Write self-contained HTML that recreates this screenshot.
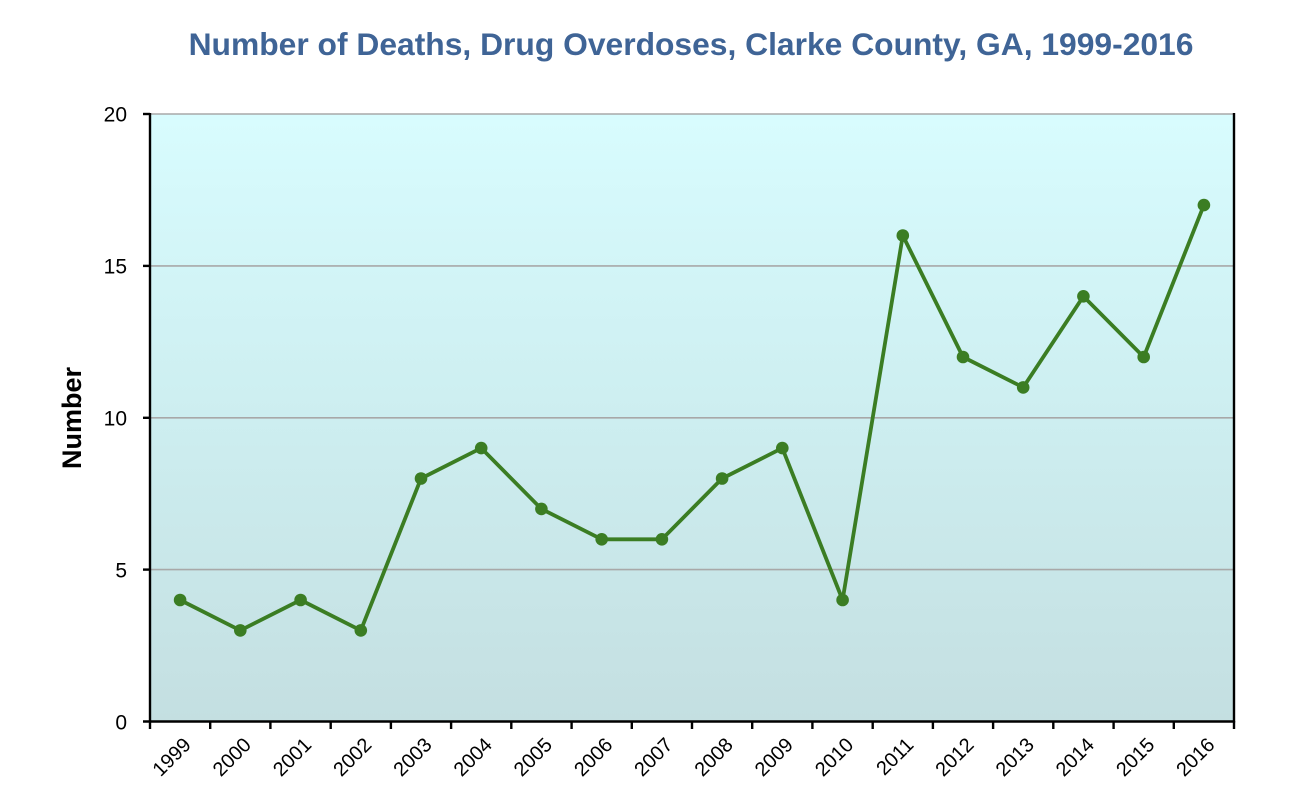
<!DOCTYPE html>
<html>
<head>
<meta charset="utf-8">
<style>
  html, body { margin:0; padding:0; background:#ffffff; }
  body { width:1304px; height:810px; overflow:hidden; }
  svg { display:block; }
  text { font-family: "Liberation Sans", Arial, sans-serif; }
</style>
</head>
<body>
<svg width="1304" height="810" viewBox="0 0 1304 810" xmlns="http://www.w3.org/2000/svg">
  <defs>
    <linearGradient id="bg" x1="0" y1="0" x2="0" y2="1">
      <stop offset="0" stop-color="#d8fcfe"/>
      <stop offset="0.5" stop-color="#cdeef0"/>
      <stop offset="1" stop-color="#c4dfe1"/>
    </linearGradient>
  </defs>

  <!-- Title -->
  <text x="691" y="55" text-anchor="middle" font-size="31.8" font-weight="bold" fill="#3f6496">Number of Deaths, Drug Overdoses, Clarke County, GA, 1999-2016</text>

  <!-- Plot background -->
  <rect x="150" y="114" width="1084" height="607.5" fill="url(#bg)"/>

  <!-- Gridlines -->
  <g stroke="#a8a8a8" stroke-width="1.6">
    <line x1="150" y1="114" x2="1234" y2="114"/>
    <line x1="150" y1="265.9" x2="1234" y2="265.9"/>
    <line x1="150" y1="417.8" x2="1234" y2="417.8"/>
    <line x1="150" y1="569.6" x2="1234" y2="569.6"/>
  </g>

  <!-- Axes -->
  <g stroke="#000" stroke-width="2.4">
    <line x1="150" y1="113" x2="150" y2="722.5"/>
    <line x1="1234" y1="113" x2="1234" y2="722.5"/>
    <line x1="143" y1="721.5" x2="1235" y2="721.5"/>
    <!-- y ticks -->
    <line x1="143" y1="114" x2="150" y2="114"/>
    <line x1="143" y1="265.9" x2="150" y2="265.9"/>
    <line x1="143" y1="417.8" x2="150" y2="417.8"/>
    <line x1="143" y1="569.6" x2="150" y2="569.6"/>
    <!-- x ticks -->
    <line x1="150" y1="721" x2="150" y2="729"/>
    <line x1="210.2" y1="721" x2="210.2" y2="729"/>
    <line x1="270.4" y1="721" x2="270.4" y2="729"/>
    <line x1="330.7" y1="721" x2="330.7" y2="729"/>
    <line x1="390.9" y1="721" x2="390.9" y2="729"/>
    <line x1="451.1" y1="721" x2="451.1" y2="729"/>
    <line x1="511.3" y1="721" x2="511.3" y2="729"/>
    <line x1="571.6" y1="721" x2="571.6" y2="729"/>
    <line x1="631.8" y1="721" x2="631.8" y2="729"/>
    <line x1="692" y1="721" x2="692" y2="729"/>
    <line x1="752.2" y1="721" x2="752.2" y2="729"/>
    <line x1="812.4" y1="721" x2="812.4" y2="729"/>
    <line x1="872.7" y1="721" x2="872.7" y2="729"/>
    <line x1="932.9" y1="721" x2="932.9" y2="729"/>
    <line x1="993.1" y1="721" x2="993.1" y2="729"/>
    <line x1="1053.3" y1="721" x2="1053.3" y2="729"/>
    <line x1="1113.6" y1="721" x2="1113.6" y2="729"/>
    <line x1="1173.8" y1="721" x2="1173.8" y2="729"/>
    <line x1="1234" y1="721" x2="1234" y2="729"/>
  </g>

  <!-- Y tick labels -->
  <g font-size="21" fill="#000" text-anchor="end">
    <text x="127" y="121.5">20</text>
    <text x="127" y="273.5">15</text>
    <text x="127" y="425.5">10</text>
    <text x="127" y="577.5">5</text>
    <text x="127" y="729.5">0</text>
  </g>

  <!-- Y axis title -->
  <text x="81" y="418" transform="rotate(-90 81 418)" text-anchor="middle" font-size="27" font-weight="bold" fill="#000">Number</text>

  <!-- X tick labels -->
  <g font-size="20" fill="#000" text-anchor="end">
    <text x="192.1" y="746" transform="rotate(-45 192.1 746)">1999</text>
    <text x="252.3" y="746" transform="rotate(-45 252.3 746)">2000</text>
    <text x="312.6" y="746" transform="rotate(-45 312.6 746)">2001</text>
    <text x="372.8" y="746" transform="rotate(-45 372.8 746)">2002</text>
    <text x="433" y="746" transform="rotate(-45 433 746)">2003</text>
    <text x="493.2" y="746" transform="rotate(-45 493.2 746)">2004</text>
    <text x="553.4" y="746" transform="rotate(-45 553.4 746)">2005</text>
    <text x="613.7" y="746" transform="rotate(-45 613.7 746)">2006</text>
    <text x="673.9" y="746" transform="rotate(-45 673.9 746)">2007</text>
    <text x="734.1" y="746" transform="rotate(-45 734.1 746)">2008</text>
    <text x="794.3" y="746" transform="rotate(-45 794.3 746)">2009</text>
    <text x="854.6" y="746" transform="rotate(-45 854.6 746)">2010</text>
    <text x="914.8" y="746" transform="rotate(-45 914.8 746)">2011</text>
    <text x="975" y="746" transform="rotate(-45 975 746)">2012</text>
    <text x="1035.2" y="746" transform="rotate(-45 1035.2 746)">2013</text>
    <text x="1095.4" y="746" transform="rotate(-45 1095.4 746)">2014</text>
    <text x="1155.7" y="746" transform="rotate(-45 1155.7 746)">2015</text>
    <text x="1215.9" y="746" transform="rotate(-45 1215.9 746)">2016</text>
  </g>

  <!-- Series -->
  <polyline fill="none" stroke="#3b7d23" stroke-width="3.8" stroke-linejoin="round"
    points="180.1,600 240.3,630.4 300.6,600 360.8,630.4 421,478.5 481.2,448.1 541.4,508.9 601.7,539.3 661.9,539.3 722.1,478.5 782.3,448.1 842.6,600 902.8,235.5 963,357 1023.2,387.4 1083.4,296.3 1143.7,357 1203.9,205.1"/>
  <g fill="#3b7d23">
    <circle cx="180.1" cy="600" r="6.3"/>
    <circle cx="240.3" cy="630.4" r="6.3"/>
    <circle cx="300.6" cy="600" r="6.3"/>
    <circle cx="360.8" cy="630.4" r="6.3"/>
    <circle cx="421" cy="478.5" r="6.3"/>
    <circle cx="481.2" cy="448.1" r="6.3"/>
    <circle cx="541.4" cy="508.9" r="6.3"/>
    <circle cx="601.7" cy="539.3" r="6.3"/>
    <circle cx="661.9" cy="539.3" r="6.3"/>
    <circle cx="722.1" cy="478.5" r="6.3"/>
    <circle cx="782.3" cy="448.1" r="6.3"/>
    <circle cx="842.6" cy="600" r="6.3"/>
    <circle cx="902.8" cy="235.5" r="6.3"/>
    <circle cx="963" cy="357" r="6.3"/>
    <circle cx="1023.2" cy="387.4" r="6.3"/>
    <circle cx="1083.4" cy="296.3" r="6.3"/>
    <circle cx="1143.7" cy="357" r="6.3"/>
    <circle cx="1203.9" cy="205.1" r="6.3"/>
  </g>
</svg>
</body>
</html>
